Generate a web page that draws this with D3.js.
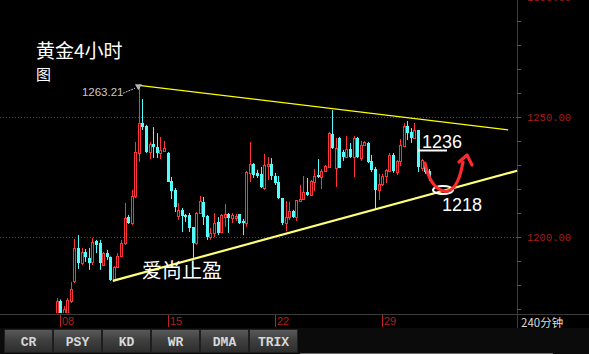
<!DOCTYPE html>
<html><head><meta charset="utf-8">
<script src="https://cdn.jsdelivr.net/npm/d3@7/dist/d3.min.js"></script>
<style>html,body{margin:0;padding:0;background:#000;overflow:hidden}</style>
</head><body><svg id="c" width="589" height="354"></svg>
<script>
// ---- data (4h candles, index k) ----
const opens  = [1165.4,1173.3,1167.1,1167.9,1173.3,1181.7,1195.4,1189.2,1193.8,1191.3,1189.6,1198.3,1197.5,1188.3,1193.3,1191.7,1182.1,1187.5,
 1192.1,1197.5,1208.3,1205.8,1217.1,1235.0,1247.5,1246.3,1235.4,1238.8,1237.5,1235.0,1235.8,
 1235.0,1223.3,1219.6,1208.8,1211.3,1209.2,1209.2,1204.2,1197.5,1210.0,1214.6,1208.8,1200.0,1201.7,1206.3,1202.1,1208.3,1209.6,1207.9,1207.9,1209.6,1206.7,1205.8,1226.7,1230.4,1226.7,1226.3,1220.4,1229.6,1230.4,
 1225.4,1222.9,1216.3,1205.8,1208.3,1210.8,1208.3,1215.0,1215.8,1218.8,1217.5,1223.0,1225.8,1225.0,1227.5,1229.2,1242.9,1228.8,1241.3,1235.4,1233.3,1236.7,1233.3,1241.3,1232.9,1238.3,1239.2,1231.7,1228.3,1219.6,
 1222.1,1225.4,1227.5,1234.2,1227.1,1231.7,1237.9,1246.3,1243.8,1241.3,1244.6,1228.8,1230.0,1227.5];
const highs  = [1174.6,1174.0,1171.2,1174.6,1181.3,1199.2,1200.8,1195.4,1195.0,1195.4,1199.6,1198.8,1198.8,1193.8,1194.6,1191.9,1187.9,1193.3,
 1198.8,1214.2,1209.2,1219.6,1239.6,1263.21,1257.5,1246.7,1239.6,1245.8,1243.3,1241.7,1240.0,
 1235.4,1225.0,1220.4,1214.2,1212.1,1209.6,1210.0,1204.2,1210.4,1217.1,1216.7,1209.2,1203.8,1210.0,1208.3,1209.6,1213.8,1210.0,1210.0,1209.6,1209.6,1207.5,1227.5,1239.6,1230.8,1228.0,1229.2,1234.6,1233.3,1232.9,
 1226.7,1225.4,1216.3,1215.0,1214.6,1211.3,1215.4,1221.7,1225.4,1224.6,1223.8,1228.3,1232.5,1228.3,1230.0,1243.8,1252.9,1241.3,1241.7,1236.3,1242.1,1239.2,1242.1,1241.7,1240.0,1240.0,1239.6,1234.2,1229.2,1226.3,
 1226.3,1228.3,1235.0,1235.0,1232.1,1240.8,1247.5,1248.3,1245.4,1247.5,1244.6,1232.5,1230.4,1228.3];
const lows   = [1163.0,1164.0,1165.0,1167.0,1172.5,1180.8,1186.7,1188.3,1189.6,1186.3,1188.3,1193.3,1186.3,1188.0,1190.4,1181.7,1181.7,1187.1,
 1191.7,1196.7,1205.4,1205.0,1216.3,1231.3,1244.6,1235.0,1232.5,1232.9,1232.9,1232.5,1235.4,
 1222.9,1215.8,1210.4,1207.1,1202.1,1206.3,1202.1,1191.3,1196.7,1209.6,1205.0,1198.8,1198.8,1200.0,1200.8,1201.7,1204.2,1201.7,1205.8,1206.7,1205.4,1200.8,1204.2,1222.9,1224.6,1224.6,1220.4,1219.6,1223.8,1223.8,
 1221.7,1215.8,1205.0,1202.5,1207.1,1207.9,1206.7,1214.6,1215.4,1217.1,1217.1,1219.2,1224.6,1220.0,1227.1,1228.8,1236.7,1220.8,1228.8,1231.7,1232.9,1232.9,1225.0,1232.9,1231.7,1237.9,1230.8,1227.1,1211.7,1215.4,
 1221.3,1222.5,1227.1,1226.7,1225.8,1229.6,1237.5,1240.4,1239.2,1240.8,1227.1,1227.5,1226.3,1223.3];
const closes = [1173.3,1166.3,1170.0,1173.8,1178.3,1195.4,1189.2,1193.8,1191.7,1189.2,1197.9,1196.7,1189.2,1193.3,1191.7,1182.1,1187.5,1192.1,
 1197.5,1207.9,1205.8,1217.1,1235.4,1247.5,1245.8,1235.4,1238.8,1237.5,1235.0,1236.3,1237.1,
 1222.9,1219.2,1212.5,1211.3,1208.8,1208.3,1203.8,1197.5,1210.0,1215.0,1208.3,1200.0,1201.7,1205.8,1201.7,1209.2,1209.6,1207.9,1209.2,1208.8,1205.8,1205.8,1227.1,1230.4,1225.8,1225.4,1220.8,1230.0,1230.4,1225.4,
 1222.5,1216.3,1205.8,1208.3,1210.8,1208.3,1215.4,1215.8,1218.8,1217.5,1223.3,1225.4,1225.0,1227.5,1229.6,1243.3,1237.1,1237.1,1228.8,1233.3,1236.7,1233.3,1241.3,1233.3,1238.3,1239.6,1231.3,1227.9,1219.6,1222.1,
 1225.4,1227.9,1234.2,1227.5,1231.7,1238.3,1246.3,1243.3,1241.3,1244.6,1229.2,1232.1,1227.1,1224.6];
const dateLabels = ["08","15","22","29"];
const dateIndex  = [1,31,61,91];
const priceTicks = [1300,1250,1200];
const buttonLabels = ["CR","PSY","KD","WR","DMA","TRIX"];
const resistLine = [[23,1263.21],[126.2,1244.6]];
const supportLine = [[15.7,1181.7],[128.7,1227.6]];
const highLabel = "1263.21";

// ---- layout ----
const svg = d3.select("#c");
const W=589,H=354, plotR=517, plotB=313;
const x = d3.scaleLinear().domain([0,129]).range([56.6,56.6+129*3.578]);
const y = d3.scaleLinear().domain([1200,1250]).range([237,117]);

svg.append("rect").attr("width",W).attr("height",H).attr("fill","#000");
svg.append("rect").attr("x",0).attr("y",328).attr("width",W).attr("height",26).attr("fill","#0b0b0b");

const defs = svg.append("defs");
defs.append("clipPath").attr("id","clip").append("rect").attr("x",0).attr("y",0).attr("width",plotR).attr("height",plotB);
const g = defs.append("linearGradient").attr("id","btn").attr("x1",0).attr("y1",0).attr("x2",0).attr("y2",1);
g.append("stop").attr("offset","0%").attr("stop-color","#5a5a5a");
g.append("stop").attr("offset","45%").attr("stop-color","#404040");
g.append("stop").attr("offset","100%").attr("stop-color","#2c2c2c");

// grid
const grid = svg.append("g");
[1250,1200].forEach(p=>{
  grid.append("line").attr("x1",0).attr("x2",plotR).attr("y1",Math.round(y(p))+0.5).attr("y2",Math.round(y(p))+0.5)
    .attr("stroke","#4a4a4a").attr("stroke-dasharray","1,2");
});

// axes frame
svg.append("line").attr("x1",plotR+0.5).attr("x2",plotR+0.5).attr("y1",0).attr("y2",328).attr("stroke","#3c3c3c");
svg.append("line").attr("x1",0).attr("x2",W).attr("y1",314.5).attr("y2",314.5).attr("stroke","#3c3c3c");

// price axis
const minor = d3.range(1170,1310,10);
svg.append("g").selectAll("line").data(minor).join("line")
  .attr("x1",plotR).attr("x2",plotR+4).attr("y1",d=>Math.round(y(d))+0.5).attr("y2",d=>Math.round(y(d))+0.5)
  .attr("stroke","#555");
svg.append("g").selectAll("text").data(priceTicks).join("text")
  .attr("x",527).attr("y",d=>y(d)+4).attr("fill","#a81c1c")
  .attr("font-family","Liberation Mono, monospace").attr("font-size",10.5).text(d=>d3.format(".2f")(d));

// date axis
const dg = svg.append("g");
dateIndex.forEach((k,i)=>{
  const xx = Math.round(x(k))+0.5;
  dg.append("line").attr("x1",xx).attr("x2",xx).attr("y1",315).attr("y2",327).attr("stroke","#c02020");
  dg.append("text").attr("x",xx+1.5).attr("y",325).attr("fill","#b02020")
    .attr("font-family","Liberation Sans, sans-serif").attr("font-size",11).text(dateLabels[i]);
});
svg.append("text").attr("x",521).attr("y",326.5).attr("fill","#dcdcdc")
  .attr("font-family","Noto Sans CJK SC, sans-serif").attr("font-size",11.5).text("240分钟");

// candles
const candles = opens.map((o,i)=>({k:i,o,h:highs[i],l:lows[i],c:closes[i]}));
const cg = svg.append("g").attr("clip-path","url(#clip)");
const RED="#ff3434", CYAN="#54fcfc";
candles.forEach(d=>{
  const cx = Math.round(x(d.k));
  const up = d.c>=d.o;
  const col = up?RED:CYAN;
  cg.append("line").attr("x1",cx+0.5).attr("x2",cx+0.5).attr("y1",y(d.h)).attr("y2",y(d.l)).attr("stroke",col);
  const top = Math.round(y(Math.max(d.o,d.c))), bot = Math.round(y(Math.min(d.o,d.c)));
  if(up){
    cg.append("rect").attr("x",cx-0.5).attr("y",top+0.5).attr("width",2).attr("height",Math.max(bot-top,1))
      .attr("fill","#000").attr("stroke",col).attr("stroke-width",1);
  } else {
    cg.append("rect").attr("x",cx-1).attr("y",top).attr("width",3).attr("height",Math.max(bot-top,1)).attr("fill",col);
  }
});

// trend lines
const ln = d3.line().x(d=>x(d[0])).y(d=>y(d[1]));
svg.append("path").attr("d",ln(resistLine)).attr("stroke","#ffff00").attr("stroke-width",1.3).attr("fill","none");
svg.append("path").attr("d",ln(supportLine)).attr("stroke","#ffff7a").attr("stroke-width",2.2).attr("fill","none");

// high marker
const hk = 23, hp = 1263.21;
svg.append("text").attr("x",x(hk)-57).attr("y",y(hp)+11).attr("fill","#c8c8c8")
  .attr("font-family","Liberation Sans, sans-serif").attr("font-size",11.5).text(highLabel);
svg.append("line").attr("x1",x(hk)-16).attr("y1",y(hp)+8).attr("x2",x(hk)-4).attr("y2",y(hp)+3)
  .attr("stroke","#c8c8c8").attr("stroke-dasharray","2,1");
svg.append("path").attr("d",`M${x(hk)-4},${y(hp)-1}L${x(hk)+3},${y(hp)-1}L${x(hk)-0.5},${y(hp)+5}Z`).attr("fill","#b4b4b4");

// title
svg.append("text").attr("x",36).attr("y",58).attr("fill","#fff")
  .attr("font-family","Noto Sans CJK SC, sans-serif").attr("font-size",19).text("黄金4小时");
svg.append("text").attr("x",36).attr("y",80).attr("fill","#fff")
  .attr("font-family","Noto Sans CJK SC, sans-serif").attr("font-size",15).text("图");

// annotations
svg.append("text").attr("x",142).attr("y",278).attr("fill","#fff")
  .attr("font-family","Noto Sans CJK SC, sans-serif").attr("font-size",20).text("爱尚止盈");
svg.append("text").attr("x",422).attr("y",148).attr("fill","#fff")
  .attr("font-family","Liberation Sans, sans-serif").attr("font-size",18).text("1236");
svg.append("line").attr("x1",418).attr("x2",447).attr("y1",150.5).attr("y2",150.5).attr("stroke","#fff").attr("stroke-width",2);
svg.append("text").attr("x",442).attr("y",211).attr("fill","#fff")
  .attr("font-family","Liberation Sans, sans-serif").attr("font-size",18).text("1218");
svg.append("ellipse").attr("cx",443).attr("cy",190).attr("rx",10).attr("ry",4)
  .attr("fill","none").attr("stroke","#fff").attr("stroke-width",2);
svg.append("path").attr("d","M425,163 C428,178 434,188 443,191 C452,193 459,185 463,162")
  .attr("fill","none").attr("stroke","#ff2a2a").attr("stroke-width",3.2).attr("stroke-linecap","round");
svg.append("path").attr("d","M459,162 L467,155 L472,165").attr("fill","none")
  .attr("stroke","#ff2a2a").attr("stroke-width",3.2).attr("stroke-linecap","round").attr("stroke-linejoin","round");

// buttons
const bg = svg.append("g");
buttonLabels.forEach((t,i)=>{
  const bx = 4+i*49;
  bg.append("rect").attr("x",bx+0.5).attr("y",329.5).attr("width",48).attr("height",23).attr("fill","url(#btn)").attr("stroke","#1e1e1e");
  bg.append("text").attr("x",bx+24.5).attr("y",346).attr("text-anchor","middle").attr("fill","#d8d8d8")
    .attr("font-family","Liberation Mono, monospace").attr("font-weight","bold").attr("font-size",13).text(t);
});
svg.append("line").attr("x1",300).attr("x2",553).attr("y1",353.5).attr("y2",353.5).attr("stroke","#6a6a6a");
</script></body></html>
